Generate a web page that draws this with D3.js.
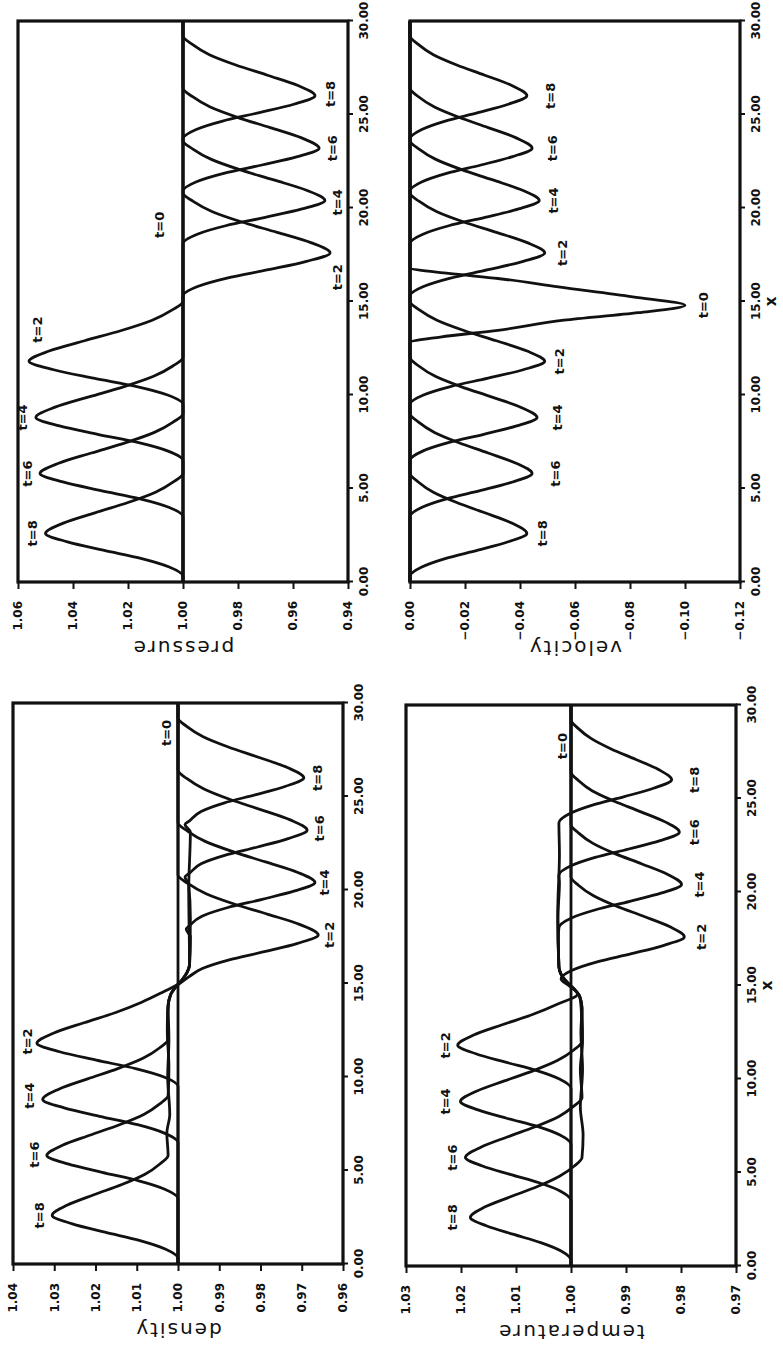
<!DOCTYPE html>
<html>
<head>
<meta charset="utf-8">
<script src="https://cdn.jsdelivr.net/npm/d3@7"></script>
<style>
  body { margin: 0; background: #fff; }
  svg { display: block; }
</style>
</head>
<body>
<div id="container"></div>
<script>
// x positions of the ticks on the long axis
const xTicks = [0, 5, 10, 15, 20, 25, 30];

const pressureTicks = [0.94, 0.96, 0.98, 1.00, 1.02, 1.04, 1.06];
const velocityTicks = [-0.12, -0.10, -0.08, -0.06, -0.04, -0.02, 0.00];
const densityTicks = [0.96, 0.97, 0.98, 0.99, 1.00, 1.01, 1.02, 1.03, 1.04];
const temperatureTicks = [0.97, 0.98, 0.99, 1.00, 1.01, 1.02, 1.03];

// curves as [x, value], one per time
const pressureT0 = [[0,1],[30,1]];
const pressureT2 = [[0,1],[9.5,1],[10.0,1.0056],[10.45,1.0168],[10.9,1.0325],[11.35,1.047],[11.8,1.056],[12.35,1.0487],[12.9,1.0358],[13.45,1.0224],[14.0,1.0112],[14.55,1.0039],[15.0,1],[15.3,1],[15.8,0.9947],[16.25,0.984],[16.7,0.969],[17.15,0.9551],[17.6,0.9465],[18.15,0.9535],[18.7,0.9658],[19.25,0.9786],[19.8,0.9893],[20.35,0.9963],[20.8,1],[30,1]];
const pressureT4 = [[0,1],[6.5,1],[7.0,1.0054],[7.45,1.0161],[7.9,1.031],[8.35,1.0449],[8.8,1.0535],[9.35,1.0465],[9.9,1.0342],[10.45,1.0214],[11.0,1.0107],[11.55,1.0037],[12.0,1],[18.1,1],[18.6,0.9948],[19.05,0.9845],[19.5,0.9701],[19.95,0.9567],[20.4,0.9484],[20.95,0.9551],[21.5,0.967],[22.05,0.9794],[22.6,0.9897],[23.15,0.9964],[23.6,1],[30,1]];
const pressureT6 = [[0,1],[3.5,1],[4.0,1.0052],[4.45,1.0156],[4.9,1.0302],[5.35,1.0437],[5.8,1.052],[6.35,1.0452],[6.9,1.0333],[7.45,1.0208],[8.0,1.0104],[8.55,1.0036],[9.0,1],[20.9,1],[21.4,0.9951],[21.85,0.9852],[22.3,0.9713],[22.75,0.9584],[23.2,0.9505],[23.75,0.9569],[24.3,0.9683],[24.85,0.9802],[25.4,0.9901],[25.95,0.9965],[26.4,1],[30,1]];
const pressureT8 = [[0,1],[0.3,1],[0.8,1.005],[1.25,1.015],[1.7,1.029],[2.15,1.042],[2.6,1.05],[3.15,1.0435],[3.7,1.032],[4.25,1.02],[4.8,1.01],[5.35,1.0035],[5.8,1],[23.7,1],[24.2,0.9952],[24.65,0.9856],[25.1,0.9722],[25.55,0.9597],[26.0,0.952],[26.55,0.9582],[27.1,0.9693],[27.65,0.9808],[28.2,0.9904],[28.75,0.9966],[29.2,1],[30,1]];

const velocityT0 = [[0,0],[12.8,0],[13.1,-0.011],[13.46,-0.032],[14.0,-0.056],[14.4,-0.083],[14.8,-0.1],[15.25,-0.081],[15.78,-0.054],[16.23,-0.032],[16.5,-0.014],[16.8,0],[30,0]];
const velocityT2 = [[0,0],[9.5,0],[10.0,-0.0049],[10.45,-0.0147],[10.9,-0.0284],[11.35,-0.0412],[11.8,-0.049],[12.35,-0.0426],[12.9,-0.0314],[13.45,-0.0196],[14.0,-0.0098],[14.55,-0.0034],[15.0,0],[15.3,0],[15.8,-0.0049],[16.25,-0.0147],[16.7,-0.0284],[17.15,-0.0412],[17.6,-0.049],[18.15,-0.0426],[18.7,-0.0314],[19.25,-0.0196],[19.8,-0.0098],[20.35,-0.0034],[20.8,0],[30,0]];
const velocityT4 = [[0,0],[6.5,0],[7.0,-0.0046],[7.45,-0.0139],[7.9,-0.0268],[8.35,-0.0388],[8.8,-0.0462],[9.35,-0.0402],[9.9,-0.0296],[10.45,-0.0185],[11.0,-0.0092],[11.55,-0.0032],[12.0,0],[18.1,0],[18.6,-0.0047],[19.05,-0.0141],[19.5,-0.0273],[19.95,-0.0395],[20.4,-0.047],[20.95,-0.0409],[21.5,-0.0301],[22.05,-0.0188],[22.6,-0.0094],[23.15,-0.0033],[23.6,0],[30,0]];
const velocityT6 = [[0,0],[3.5,0],[4.0,-0.0044],[4.45,-0.0133],[4.9,-0.0258],[5.35,-0.0373],[5.8,-0.0444],[6.35,-0.0386],[6.9,-0.0284],[7.45,-0.0178],[8.0,-0.0089],[8.55,-0.0031],[9.0,0],[20.9,0],[21.4,-0.0044],[21.85,-0.0133],[22.3,-0.0258],[22.75,-0.0373],[23.2,-0.0444],[23.75,-0.0386],[24.3,-0.0284],[24.85,-0.0178],[25.4,-0.0089],[25.95,-0.0031],[26.4,0],[30,0]];
const velocityT8 = [[0,0],[0.3,0],[0.8,-0.0043],[1.25,-0.0128],[1.7,-0.0247],[2.15,-0.0357],[2.6,-0.0425],[3.15,-0.037],[3.7,-0.0272],[4.25,-0.017],[4.8,-0.0085],[5.35,-0.003],[5.8,0],[23.7,0],[24.2,-0.0043],[24.65,-0.0128],[25.1,-0.0247],[25.55,-0.0357],[26.0,-0.0425],[26.55,-0.037],[27.1,-0.0272],[27.65,-0.017],[28.2,-0.0085],[28.75,-0.003],[29.2,0],[30,0]];

const densityT0 = [[0,1],[30,1]];
const densityT2 = [[0,1],[9.5,1],[10.0,1.0034],[10.45,1.0103],[10.9,1.0198],[11.35,1.0287],[11.8,1.0342],[12.35,1.0301],[12.9,1.0228],[13.45,1.0151],[14.0,1.0088],[14.55,1.0036],[15.0,0.9996],[15.35,0.9974],[15.8,0.9941],[16.25,0.9878],[16.7,0.9791],[17.15,0.971],[17.6,0.966],[18.15,0.9704],[18.7,0.9782],[19.25,0.9864],[19.8,0.9932],[20.35,0.9976],[20.8,1],[30,1]];
const densityT4 = [[0,1],[6.5,1],[7.0,1.0033],[7.45,1.0098],[7.9,1.019],[8.35,1.0276],[8.8,1.0328],[9.35,1.0289],[9.9,1.0219],[10.45,1.0146],[11.0,1.0085],[11.55,1.0045],[12.0,1.0024],[13.5,1.0025],[14.4,1.0018],[14.8,1.0006],[15.2,0.999],[15.6,0.9978],[16.0,0.9972],[17.5,0.997],[17.9,0.998],[18.1,0.9972],[18.6,0.9942],[19.05,0.9881],[19.5,0.9796],[19.95,0.9717],[20.4,0.9668],[20.95,0.9711],[21.5,0.9788],[22.05,0.9867],[22.6,0.9934],[23.15,0.9977],[23.6,1],[30,1]];
const densityT6 = [[0,1],[3.5,1],[4.0,1.0032],[4.45,1.0095],[4.9,1.0184],[5.35,1.0267],[5.8,1.0318],[6.35,1.028],[6.9,1.0212],[7.45,1.0142],[8.0,1.0083],[8.55,1.0045],[9.0,1.0024],[10.5,1.0022],[12.5,1.0026],[13.8,1.0024],[14.4,1.0018],[14.8,1.0006],[15.2,0.999],[15.6,0.9978],[16.0,0.9972],[18.5,0.997],[20.3,0.9974],[20.7,0.9983],[20.9,0.9972],[21.4,0.9944],[21.85,0.9887],[22.3,0.9807],[22.75,0.9733],[23.2,0.9687],[23.75,0.9728],[24.3,0.98],[24.85,0.9875],[25.4,0.9937],[25.95,0.9978],[26.4,1],[30,1]];
const densityT8 = [[0,1],[0.3,1],[0.8,1.0031],[1.25,1.0092],[1.7,1.0177],[2.15,1.0256],[2.6,1.0305],[3.15,1.0268],[3.7,1.0204],[4.25,1.0136],[4.8,1.008],[5.35,1.0044],[5.8,1.0024],[7.0,1.0027],[8.0,1.002],[10.0,1.0025],[12.0,1.0022],[13.8,1.0024],[14.4,1.0018],[14.8,1.0006],[15.2,0.999],[15.6,0.9978],[16.0,0.9972],[20.0,0.9974],[23.1,0.997],[23.5,0.9983],[23.7,0.9972],[24.2,0.9944],[24.65,0.9889],[25.1,0.9811],[25.55,0.9739],[26.0,0.9695],[26.55,0.9735],[27.1,0.9805],[27.65,0.9878],[28.2,0.9939],[28.75,0.9979],[29.2,1],[30,1]];

const temperatureT0 = [[0,1],[30,1]];
const temperatureT2 = [[0,1],[9.5,1],[10.0,1.0021],[10.45,1.0062],[10.9,1.0119],[11.35,1.0173],[11.8,1.0206],[12.35,1.0177],[12.9,1.0125],[13.45,1.007],[14.0,1.0025],[14.55,0.9988],[15.0,1.0004],[15.35,1.0018],[15.8,0.9999],[16.25,0.9954],[16.7,0.989],[17.15,0.9831],[17.6,0.9794],[18.15,0.9821],[18.7,0.9868],[19.25,0.9918],[19.8,0.9959],[20.35,0.9986],[20.8,1],[30,1]];
const temperatureT4 = [[0,1],[6.5,1],[7.0,1.002],[7.45,1.006],[7.9,1.0117],[8.35,1.0169],[8.8,1.0201],[9.35,1.0172],[9.9,1.0121],[10.45,1.0068],[11.0,1.0024],[11.55,0.9995],[12.0,0.998],[13.5,0.9981],[14.4,0.9984],[14.8,0.9994],[15.2,1.0008],[15.6,1.0018],[16.0,1.0022],[17.5,1.0023],[18.1,1.0022],[18.6,1.0],[19.05,0.9955],[19.5,0.9893],[19.95,0.9835],[20.4,0.9799],[20.95,0.9825],[21.5,0.9871],[22.05,0.992],[22.6,0.996],[23.15,0.9986],[23.6,1],[30,1]];
const temperatureT6 = [[0,1],[3.5,1],[4.0,1.0019],[4.45,1.0058],[4.9,1.0111],[5.35,1.0161],[5.8,1.0192],[6.35,1.0164],[6.9,1.0116],[7.45,1.0065],[8.0,1.0022],[8.55,0.9995],[9.0,0.998],[10.5,0.9983],[12.0,0.9979],[13.8,0.998],[14.4,0.9984],[14.8,0.9994],[15.2,1.0008],[15.6,1.0018],[16.0,1.0022],[18.5,1.0024],[20.5,1.0021],[20.9,1.0022],[21.4,1.0],[21.85,0.9956],[22.3,0.9895],[22.75,0.9838],[23.2,0.9803],[23.75,0.9829],[24.3,0.9874],[24.85,0.9921],[25.4,0.9961],[25.95,0.9986],[26.4,1],[30,1]];
const temperatureT8 = [[0,1],[0.3,1],[0.8,1.0018],[1.25,1.0055],[1.7,1.0106],[2.15,1.0154],[2.6,1.0183],[3.15,1.0157],[3.7,1.011],[4.25,1.0061],[4.8,1.0021],[5.35,0.9994],[5.8,0.998],[7.0,0.9978],[8.5,0.9983],[10.5,0.9979],[12.5,0.9982],[13.8,0.998],[14.4,0.9984],[14.8,0.9994],[15.2,1.0008],[15.6,1.0018],[16.0,1.0022],[19.0,1.0024],[22.0,1.0021],[23.7,1.0022],[24.2,1.0002],[24.65,0.9961],[25.1,0.9903],[25.55,0.985],[26.0,0.9817],[26.55,0.9841],[27.1,0.9883],[27.65,0.9927],[28.2,0.9963],[28.75,0.9987],[29.2,1],[30,1]];

// time labels: [text, x, value]
const pressureLabels = [["t=0",19.1,1.0084],["t=2",13.5,1.0531],["t=4",8.8,1.0585],["t=6",5.8,1.0567],["t=8",2.6,1.0549],["t=2",16.3,0.944],["t=4",20.3,0.944],["t=6",23.2,0.9455],["t=8",26.1,0.9465]];
const velocityLabels = [["t=0",14.8,-0.1066],["t=2",11.8,-0.0545],["t=4",8.8,-0.0535],["t=6",5.8,-0.053],["t=8",2.6,-0.048],["t=2",17.6,-0.0553],["t=4",20.4,-0.052],["t=6",23.2,-0.0517],["t=8",26.0,-0.051]];
const densityLabels = [["t=0",28.4,1.0027],["t=2",11.9,1.0366],["t=4",9.0,1.0359],["t=6",5.85,1.0347],["t=8",2.6,1.0335],["t=2",17.6,0.9632],["t=4",20.4,0.9644],["t=6",23.3,0.9656],["t=8",26.0,0.9661]];
const temperatureLabels = [["t=0",27.8,1.0016],["t=2",11.8,1.0228],["t=4",8.8,1.0228],["t=6",5.8,1.0215],["t=8",2.6,1.0215],["t=2",17.6,0.9762],["t=4",20.4,0.9767],["t=6",23.2,0.9776],["t=8",26.0,0.9776]];

const w = 783;
const h = 1349;
const W = 561; // length of the x axis (drawn upright, the page is turned)
const H = 330; // length of the value axis

const svg = d3.select('#container')
  .append('svg')
  .attr('width', w)
  .attr('height', h)
  .attr('viewBox', [0, 0, w, h]);

const panels = [
  {title: 'pressure', left: 18, top: 21, domain: [0.94, 1.06], ticks: pressureTicks,
   curves: [pressureT0, pressureT2, pressureT4, pressureT6, pressureT8], labels: pressureLabels, xTitle: false},
  {title: 'velocity', left: 410, top: 21, domain: [-0.12, 0], ticks: velocityTicks,
   curves: [velocityT0, velocityT2, velocityT4, velocityT6, velocityT8], labels: velocityLabels, xTitle: true},
  {title: 'density', left: 13, top: 703, domain: [0.96, 1.04], ticks: densityTicks,
   curves: [densityT0, densityT2, densityT4, densityT6, densityT8], labels: densityLabels, xTitle: false},
  {title: 'temperature', left: 406, top: 705, domain: [0.97, 1.03], ticks: temperatureTicks,
   curves: [temperatureT0, temperatureT2, temperatureT4, temperatureT6, temperatureT8], labels: temperatureLabels, xTitle: true}
];

const fmt = d3.format('.2f');

panels.forEach(p => {
  // each panel is drawn upright and then turned a quarter to the left
  const g = svg.append('g')
    .attr('transform', 'translate(' + p.left + ',' + (p.top + W) + ') rotate(-90)');

  const x = d3.scaleLinear().domain([0, 30]).range([0, W]);
  const y = d3.scaleLinear().domain(p.domain).range([H, 0]);

  const xAxis = g.append('g')
    .attr('transform', 'translate(0,' + H + ')')
    .call(d3.axisBottom(x).tickValues(xTicks).tickFormat(fmt).tickSize(5).tickPadding(6));

  const yAxis = g.append('g')
    .call(d3.axisLeft(y).tickValues(p.ticks).tickFormat(fmt).tickSize(7).tickPadding(12));

  [xAxis, yAxis].forEach(a => {
    a.select('.domain').remove();
    a.selectAll('line').attr('stroke', '#111').attr('stroke-width', 2);
    a.selectAll('text')
      .attr('fill', '#111')
      .style('font-family', '"DejaVu Sans", sans-serif')
      .style('font-weight', 'bold')
      .style('font-size', '12px');
  });

  const line = d3.line()
    .x(d => x(d[0]))
    .y(d => y(d[1]))
    .curve(d3.curveMonotoneX);

  g.selectAll('path.curve')
    .data(p.curves)
    .enter()
    .append('path')
    .attr('class', 'curve')
    .attr('d', line)
    .attr('fill', 'none')
    .attr('stroke', '#111')
    .attr('stroke-width', 2.8)
    .attr('stroke-linejoin', 'round');

  g.append('rect')
    .attr('width', W)
    .attr('height', H)
    .attr('fill', 'none')
    .attr('stroke', '#111')
    .attr('stroke-width', 3.2);

  g.selectAll('text.tlabel')
    .data(p.labels)
    .enter()
    .append('text')
    .attr('class', 'tlabel')
    .attr('x', d => x(d[1]))
    .attr('y', d => y(d[2]))
    .attr('dy', '0.35em')
    .attr('text-anchor', 'middle')
    .attr('fill', '#111')
    .style('font-family', '"DejaVu Sans", sans-serif')
    .style('font-weight', 'bold')
    .style('font-size', '13px')
    .text(d => d[0]);

  g.append('text')
    .attr('transform', 'translate(-66,' + (H / 2) + ') rotate(-90)')
    .attr('text-anchor', 'middle')
    .attr('dominant-baseline', 'central')
    .attr('fill', '#111')
    .style('font-family', '"DejaVu Sans", sans-serif')
    .style('font-size', '20px')
    .style('letter-spacing', '2px')
    .text(p.title);

  if (p.xTitle) {
    g.append('text')
      .attr('x', W / 2)
      .attr('y', H + 31)
      .attr('text-anchor', 'middle')
      .attr('dominant-baseline', 'central')
      .attr('fill', '#111')
      .style('font-family', '"DejaVu Sans", sans-serif')
      .style('font-weight', 'bold')
      .style('font-size', '15px')
      .text('x');
  }
});
</script>
</body>
</html>
